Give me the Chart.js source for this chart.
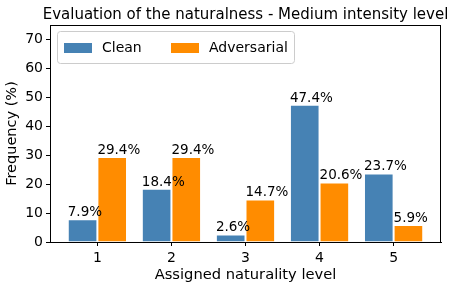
<!DOCTYPE html>
<html>
<head>
<meta charset="utf-8">
<script src="https://cdn.jsdelivr.net/npm/chart.js@4"></script>
<style>
  html, body { margin: 0; padding: 0; background: #fff; }
  #wrap { width: 456px; height: 289px; }
</style>
</head>
<body>
<div id="wrap"><canvas id="myChart" width="456" height="289"></canvas></div>
<script>
const levels = [1, 2, 3, 4, 5]
const clean = [7.9, 18.4, 2.6, 47.4, 23.7]
const adversarial = [29.4, 29.4, 14.7, 20.6, 5.9]
const yTicks = [0, 10, 20, 30, 40, 50, 60, 70]
const titleText = 'Evaluation of the naturalness - Medium intensity level'

const FONT = 'DejaVu Sans'

// bar value labels, e.g. "29.4%", left-aligned on the bar edge
const valueLabels = {
    id: 'valueLabels',
    afterDatasetsDraw(chart) {
        const ctx = chart.ctx
        ctx.save()
        ctx.font = '13.5px "' + FONT + '"'
        ctx.fillStyle = '#000'
        ctx.textAlign = 'left'
        ctx.textBaseline = 'alphabetic'
        chart.data.datasets.forEach((ds, i) => {
            chart.getDatasetMeta(i).data.forEach((bar, j) => {
                ctx.fillText(ds.data[j].y.toFixed(1) + '%', bar.x - bar.width / 2, bar.y - 3)
            })
        })
        ctx.restore()
    },
}

// title over the axes, frame, and legend inside the plot (matplotlib style)
const frameAndLegend = {
    id: 'frameAndLegend',
    afterDraw(chart) {
        const { ctx, chartArea: a } = chart
        ctx.save()
        ctx.fillStyle = '#000'
        ctx.font = '15px "' + FONT + '"'
        ctx.textAlign = 'center'
        ctx.textBaseline = 'alphabetic'
        ctx.fillText(titleText, (a.left + a.right) / 2, a.top - 6)

        ctx.strokeStyle = '#000'
        ctx.lineWidth = 1
        ctx.strokeRect(a.left + 0.5, a.top + 0.5, a.right - a.left - 1, a.bottom - a.top)

        const x0 = a.left + 7, y0 = a.top + 6, w = 237, h = 32
        ctx.beginPath()
        ctx.roundRect(x0 + 0.5, y0 + 0.5, w, h, 3)
        ctx.fillStyle = 'rgba(255,255,255,0.8)'
        ctx.fill()
        ctx.strokeStyle = '#cccccc'
        ctx.stroke()

        ctx.font = '14px "' + FONT + '"'
        ctx.textBaseline = 'middle'
        ctx.textAlign = 'left'
        const offsets = [7, 114]
        chart.data.datasets.forEach((ds, i) => {
            const px = x0 + offsets[i]
            const cy = y0 + h / 2 + 1
            ctx.fillStyle = ds.backgroundColor
            ctx.fillRect(px, cy - 5, 28, 10)
            ctx.fillStyle = '#000'
            ctx.fillText(ds.label, px + 38, cy)
        })
        ctx.restore()
    },
}

new Chart(document.getElementById('myChart'), {
    type: 'bar',
    data: {
        datasets: [
            {
                label: 'Clean',
                data: levels.map((l, i) => ({ x: l, y: clean[i] })),
                backgroundColor: '#4682b4',
                borderColor: '#ffffff',
                borderWidth: 1,
            },
            {
                label: 'Adversarial',
                data: levels.map((l, i) => ({ x: l, y: adversarial[i] })),
                backgroundColor: '#ff8c00',
                borderColor: '#ffffff',
                borderWidth: 1,
            },
        ],
    },
    options: {
        responsive: false,
        animation: false,
        categoryPercentage: 0.8,
        barPercentage: 1.0,
        layout: { padding: { left: 0, right: 15, top: 25, bottom: 0 } },
        plugins: {
            legend: { display: false },
            tooltip: { enabled: false },
            title: { display: false },
        },
        scales: {
            x: {
                type: 'linear',
                min: 0.36,
                max: 5.64,
                offset: false,
                afterBuildTicks: (s) => { s.ticks = levels.map(v => ({ value: v })) },
                afterFit: (s) => { s.height = 47 },
                grid: { offset: false, drawOnChartArea: false, drawTicks: true, tickLength: 4, color: '#000' },
                border: { display: true, color: '#000' },
                ticks: { color: '#000', font: { family: FONT, size: 14 }, padding: 4 },
                title: {
                    display: true,
                    text: 'Assigned naturality level',
                    color: '#000',
                    font: { family: FONT, size: 14.7 },
                    padding: { top: 1, bottom: 5 },
                },
            },
            y: {
                min: 0,
                max: 75,
                afterBuildTicks: (s) => { s.ticks = yTicks.map(v => ({ value: v })) },
                afterFit: (s) => { s.width = 50 },
                grid: { drawOnChartArea: false, drawTicks: true, tickLength: 4, color: '#000' },
                border: { display: true, color: '#000' },
                ticks: { color: '#000', font: { family: FONT, size: 14 }, padding: 3 },
                title: {
                    display: true,
                    text: 'Frequency (%)',
                    color: '#000',
                    font: { family: FONT, size: 14.5 },
                    padding: { top: 4, bottom: 0 },
                },
            },
        },
    },
    plugins: [valueLabels, frameAndLegend],
})
</script>
</body>
</html>
